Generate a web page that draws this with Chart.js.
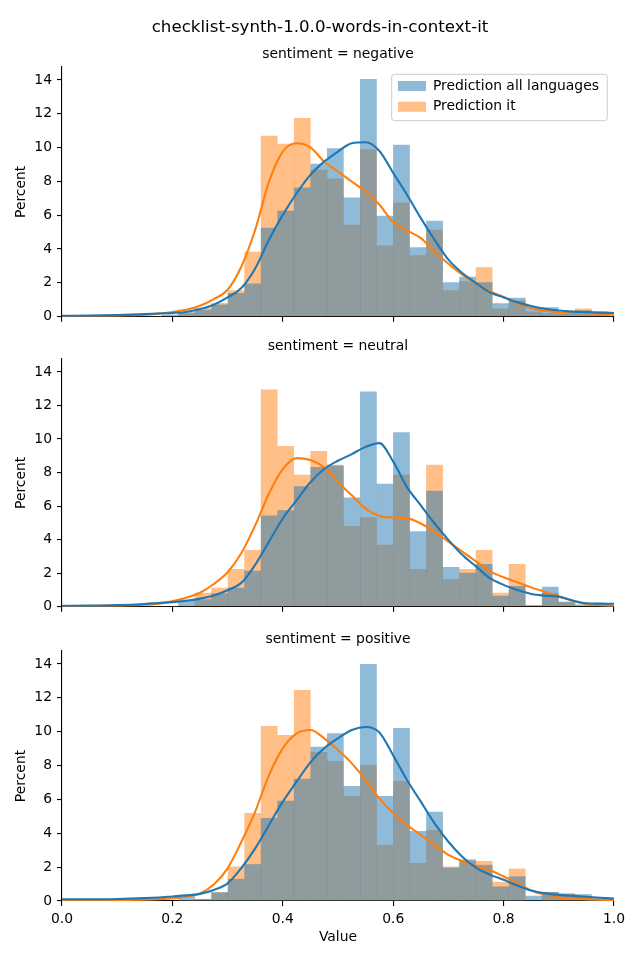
<!DOCTYPE html>
<html><head><meta charset="utf-8">
<script src="https://cdn.jsdelivr.net/npm/chart.js@4.4.1/dist/chart.umd.min.js"></script>
<style>
html,body{margin:0;padding:0;background:#fff;width:640px;height:960px;overflow:hidden;position:relative}
canvas{position:absolute;left:0}
</style></head><body>
<canvas id="c1" width="640" height="330" style="top:0px"></canvas>
<canvas id="c2" width="640" height="290" style="top:330px"></canvas>
<canvas id="c3" width="640" height="340" style="top:620px"></canvas>
<script>
const figTitle = 'checklist-synth-1.0.0-words-in-context-it';
const panelTitles = ['sentiment = negative', 'sentiment = neutral', 'sentiment = positive'];
const seriesNames = ['Prediction all languages', 'Prediction it'];
const xTitle = 'Value';
const yTitle = 'Percent';
const xTicks = [0, 0.2, 0.4, 0.6, 0.8, 1.0];
const yTicks = [0, 2, 4, 6, 8, 10, 12, 14];
const yMax = 14.77;

const binCenters = [0.015975,0.045925,0.075875,0.105825,0.135775,0.165725,0.195675,0.225625,0.255575,0.285525,
  0.315475,0.345425,0.375375,0.405325,0.435275,0.465225,0.495175,0.525125,0.555075,0.585025,
  0.614975,0.644925,0.674875,0.704825,0.734775,0.764725,0.794675,0.824625,0.854575,0.884525,
  0.914475,0.944425,0.974375,1.004325];

const negAll = [0,0,0,0,0,0,0.12,0.25,0.41,0.71,1.40,1.95,5.26,6.26,7.64,9.04,9.96,7.05,14.06,5.97,10.16,4.10,5.67,2.03,2.36,2.03,0.79,1.12,0.57,0.55,0.18,0.37,0.30,0.25];
const negIt  = [0,0,0,0,0,0,0,0.20,0.50,0.80,1.55,3.84,10.69,10.22,11.75,8.68,8.17,5.43,9.90,4.21,6.75,3.62,5.14,1.56,2.09,2.91,0.47,0.96,0.30,0.20,0.18,0.47,0.15,0];
const neuAll = [0,0,0,0,0,0,0,0.41,0.43,0.79,1.12,2.13,5.43,5.75,7.17,8.33,8.41,6.50,12.82,7.32,10.40,4.49,6.91,2.36,2.01,2.54,0.65,1.22,0.10,1.18,0.27,0.12,0.18,0.18];
const neuIt  = [0,0,0,0,0,0,0,0,0.83,1.12,2.24,3.37,12.94,9.57,7.86,9.27,8.45,4.80,5.32,3.68,7.86,2.24,8.45,1.65,2.24,3.37,0.83,2.54,0,0.81,0.30,0.05,0,0];
const posAll = [0,0,0,0,0,0,0,0.35,0.12,0.51,1.30,2.17,4.90,5.91,7.21,9.10,9.90,6.79,14.00,6.20,10.22,4.13,5.26,1.97,2.45,2.13,0.85,1.45,0.30,0.53,0.45,0.40,0.18,0.15];
const posIt  = [0,0,0,0,0,0,0,0.05,0.10,0.51,2.03,5.20,10.34,9.80,12.46,8.80,8.27,6.20,8.03,3.31,7.09,2.24,4.19,2.03,2.38,2.36,1.12,1.91,0,0.53,0.40,0.24,0.10,0];

const kdeX = [0,0.05,0.1,0.15,0.175,0.2,0.225,0.25,0.275,0.3,0.325,0.35,0.375,0.4,0.425,0.45,0.475,0.5,0.525,0.55,0.575,0.6,0.625,0.65,0.675,0.7,0.725,0.75,0.775,0.8,0.825,0.85,0.875,0.9,0.925,0.95,0.975,1.0];
const negKdeAll = [0.05,0.06,0.09,0.15,0.19,0.22,0.28,0.45,0.71,1.14,1.70,2.85,4.55,6.02,7.30,8.39,9.17,9.77,10.26,10.32,9.80,8.50,7.21,5.83,4.55,3.37,2.58,1.99,1.44,1.15,0.85,0.63,0.47,0.36,0.30,0.27,0.24,0.22];
const negKdeIt  = [0.03,0.04,0.06,0.11,0.18,0.28,0.41,0.65,1.04,1.59,2.97,5.14,7.99,9.77,10.26,10.02,9.17,8.58,7.99,7.40,6.62,5.60,5.10,4.65,3.86,3.13,2.48,1.95,1.50,1.15,0.80,0.50,0.35,0.25,0.22,0.20,0.17,0.14];
const neuKdeAll = [0.05,0.06,0.09,0.16,0.22,0.27,0.35,0.48,0.67,0.98,1.42,2.50,3.88,5.26,6.34,7.42,8.21,8.70,9.10,9.53,9.75,8.65,7.13,6.04,4.96,3.98,3.09,2.40,1.70,1.30,1.00,0.76,0.66,0.60,0.37,0.20,0.18,0.17];
const neuKdeIt  = [0.03,0.04,0.06,0.11,0.17,0.33,0.53,0.83,1.35,2.05,3.20,4.85,6.75,8.20,8.86,8.74,8.31,7.42,6.64,5.85,5.41,5.32,5.28,4.96,4.47,3.88,3.29,2.70,2.12,1.75,1.45,1.15,0.88,0.60,0.34,0.16,0.08,0.06];
const posKdeAll = [0.10,0.10,0.12,0.17,0.21,0.27,0.33,0.42,0.65,1.04,1.95,3.11,4.49,5.87,7.05,8.19,9.02,9.61,10.10,10.28,9.96,8.60,7.15,5.87,4.59,3.50,2.62,1.97,1.56,1.25,0.92,0.62,0.45,0.36,0.30,0.25,0.19,0.14];
const posKdeIt  = [0.03,0.04,0.05,0.08,0.11,0.15,0.26,0.45,0.98,1.93,3.50,5.28,7.44,9.02,9.90,10.10,9.61,8.92,8.13,7.15,6.06,5.18,4.49,3.90,3.31,2.72,2.36,2.03,1.81,1.45,1.05,0.62,0.38,0.23,0.15,0.11,0.07,0.04];

Chart.defaults.font.family = "'DejaVu Sans', sans-serif";
Chart.defaults.color = '#000';
Chart.defaults.animation = false;

const FS = 13.9;
const toXY = (xs, ys) => xs.map((x, i) => ({x: x, y: ys[i]}));

const legendPlace = {
  id: 'legendPlace',
  afterLayout(chart) {
    const lg = chart.legend;
    if (!lg || !chart.options.plugins.legend.display) return;
    const ca = chart.chartArea;
    lg.left = ca.right - 222.85;
    lg.top = ca.top + 5.15;
    lg.right = ca.right;
    lg.bottom = ca.bottom;
    lg.width = lg.right - lg.left;
    lg.height = lg.bottom - lg.top;
  },
  beforeDraw(chart) {
    if (!chart.options.plugins.legend.display) return;
    const ca = chart.chartArea, ctx = chart.ctx;
    const x = ca.right - 222.3, y = ca.top + 7.3, w = 215.6, h = 46.4;
    ctx.save();
    ctx.beginPath();
    if (ctx.roundRect) ctx.roundRect(x, y, w, h, 2.8); else ctx.rect(x, y, w, h);
    ctx.fillStyle = 'rgba(255,255,255,0.8)';
    ctx.fill();
    ctx.lineWidth = 1;
    ctx.strokeStyle = '#cccccc';
    ctx.stroke();
    ctx.restore();
  }
};

function makePanel(id, p) {
  const datasets = [
    {type: 'bar', label: seriesNames[0], data: toXY(binCenters, p.all),
     backgroundColor: 'rgba(31,119,180,0.5)', borderWidth: 0, grouped: false,
     barPercentage: 1, categoryPercentage: 1, inflateAmount: 0.1, order: 2, clip: 0},
    {type: 'bar', label: seriesNames[1], data: toXY(binCenters, p.it),
     backgroundColor: 'rgba(255,127,14,0.5)', borderWidth: 0, grouped: false,
     barPercentage: 1, categoryPercentage: 1, inflateAmount: 0.1, order: 3, clip: 0},
    {type: 'line', label: seriesNames[0] + ' (KDE)', data: toXY(kdeX, p.kdeAll),
     borderColor: '#1f77b4', borderWidth: 2.1, pointRadius: 0, fill: false,
     cubicInterpolationMode: 'monotone', order: 0},
    {type: 'line', label: seriesNames[1] + ' (KDE)', data: toXY(kdeX, p.kdeIt),
     borderColor: '#ff7f0e', borderWidth: 2.1, pointRadius: 0, fill: false,
     cubicInterpolationMode: 'monotone', order: 1}
  ];
  const axisGrid = {display: true, drawOnChartArea: false, drawTicks: true, tickLength: 5, color: '#000', lineWidth: 1.1, offset: false};
  return new Chart(document.getElementById(id), {
    type: 'bar',
    data: {datasets: datasets},
    plugins: p.legend ? [legendPlace] : [],
    options: {
      responsive: false,
      devicePixelRatio: 1,
      animation: false,
      events: [],
      layout: {padding: {left: 0, right: 0, top: 0, bottom: p.padBottom}},
      scales: {
        x: {
          type: 'linear', min: 0, max: 1, offset: false,
          afterBuildTicks: s => { s.ticks = xTicks.map(v => ({value: v})); },
          afterFit: s => { s.height = p.xHeight; },
          ticks: {display: p.xLabels, callback: v => Number(v).toFixed(1), font: {size: FS}, color: '#000', padding: 5, maxRotation: 0, autoSkip: false},
          grid: axisGrid,
          border: {display: true, color: '#000', width: 1.1},
          title: {display: p.xLabels, text: xTitle, font: {size: FS}, color: '#000', padding: {top: 0, bottom: 14.66}}
        },
        y: {
          type: 'linear', position: 'left', min: 0, max: yMax,
          afterBuildTicks: s => { s.ticks = yTicks.map(v => ({value: v})); },
          afterFit: s => { s.width = 62; },
          ticks: {font: {size: FS}, color: '#000', padding: 5},
          grid: axisGrid,
          border: {display: true, color: '#000', width: 1.1},
          title: {display: true, text: yTitle, font: {size: FS}, color: '#000', padding: {top: 12.66, bottom: 0}}
        },
        yRight: {
          type: 'linear', position: 'right', display: true, min: 0, max: yMax,
          afterFit: s => { s.width = 26; },
          ticks: {display: false},
          grid: {display: false, drawTicks: false},
          border: {display: false},
          title: {display: false}
        }
      },
      plugins: {
        tooltip: {enabled: false},
        title: p.main ? {display: true, fullSize: true, text: figTitle, color: '#000', font: {size: 16.67, weight: 'normal'}, padding: {top: 18, bottom: 0}}
                      : {display: true, fullSize: false, text: p.title, color: '#000', font: {size: FS, weight: 'normal'}, padding: p.titlePad},
        subtitle: p.main ? {display: true, fullSize: false, text: p.title, color: '#000', font: {size: FS, weight: 'normal'}, padding: p.titlePad}
                         : {display: false},
        legend: {
          display: !!p.legend,
          position: 'chartArea',
          align: 'start',
          labels: {
            filter: item => item.datasetIndex < 2,
            boxWidth: 28, boxHeight: 10, padding: 6.85,
            font: {size: FS}, color: '#000'
          }
        }
      }
    }
  });
}

makePanel('c1', {main: true, title: panelTitles[0], titlePad: {top: 7.66, bottom: 4.66}, legend: true,
  all: negAll, it: negIt, kdeAll: negKdeAll, kdeIt: negKdeIt, xLabels: false, xHeight: 10, padBottom: 3});
makePanel('c2', {main: false, title: panelTitles[1], titlePad: {top: 7.66, bottom: 4.66}, legend: false,
  all: neuAll, it: neuIt, kdeAll: neuKdeAll, kdeIt: neuKdeIt, xLabels: false, xHeight: 10, padBottom: 1});
makePanel('c3', {main: false, title: panelTitles[2], titlePad: {top: 10.66, bottom: 3.66}, legend: false,
  all: posAll, it: posIt, kdeAll: posKdeAll, kdeIt: posKdeIt, xLabels: true, xHeight: 59, padBottom: 0});
</script>
</body></html>
